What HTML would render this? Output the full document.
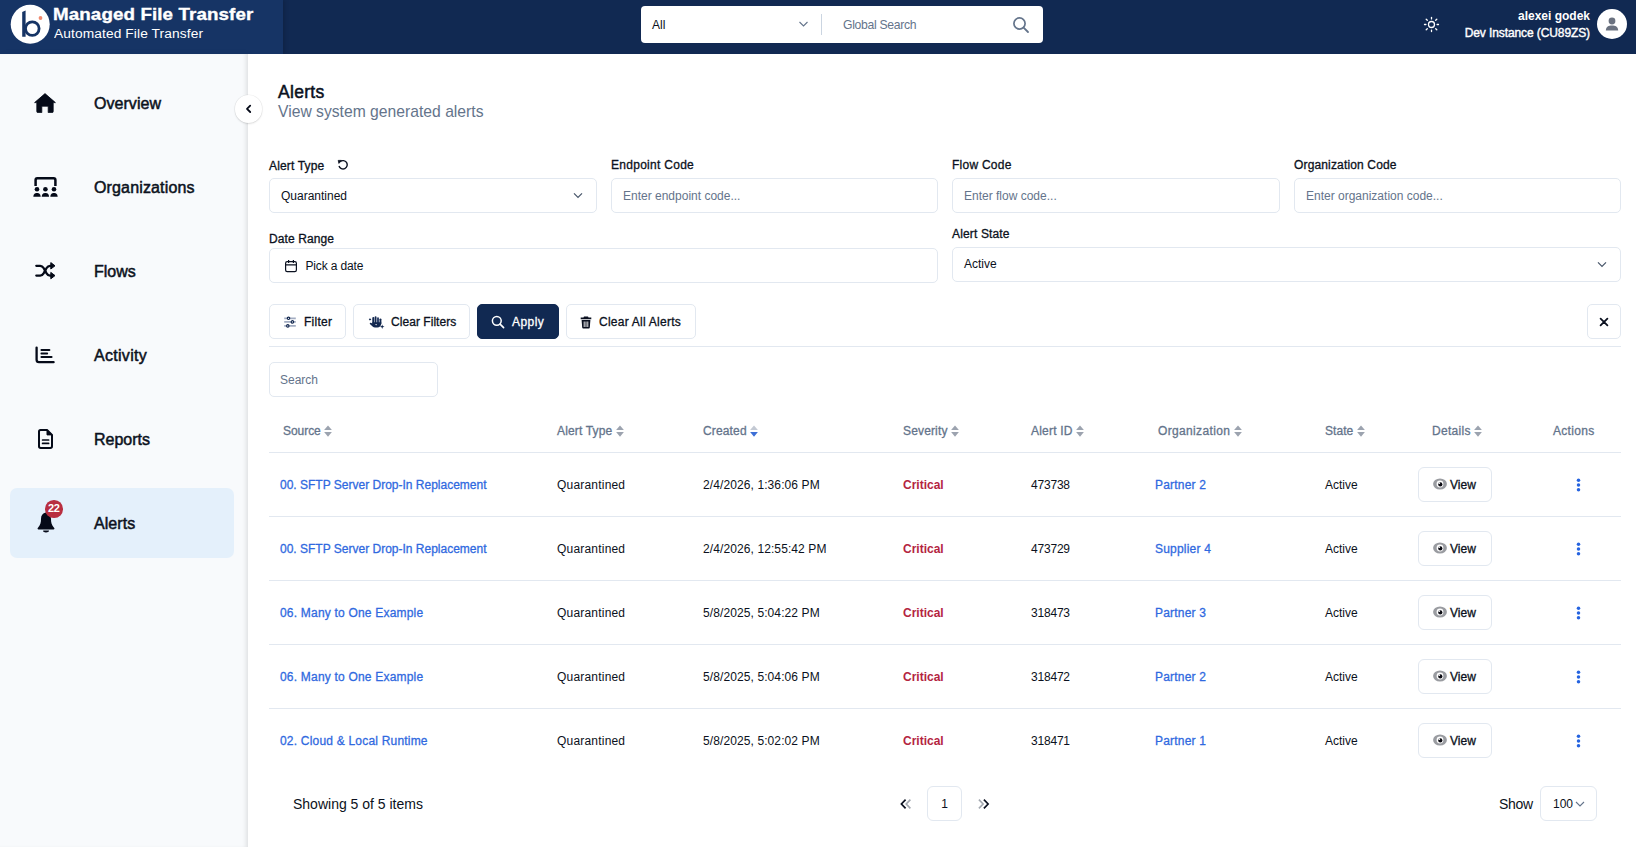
<!DOCTYPE html>
<html>
<head>
<meta charset="utf-8">
<style>
*{box-sizing:border-box;margin:0;padding:0}
html,body{width:1636px;height:847px;overflow:hidden;background:#fff;font-family:"Liberation Sans",sans-serif;color:#0b1120}
.abs{position:absolute}
#hdr{position:absolute;left:0;top:0;width:1636px;height:54px;background:#112952}
#logo{position:absolute;left:0;top:0;width:283px;height:54px;background:#163465;box-shadow:2px 0 4px rgba(0,0,0,0.15)}
#side{position:absolute;left:0;top:54px;width:248px;height:793px;background:#f8fafc;box-shadow:inset -4px 0 4px -2px rgba(0,0,0,0.10),2px 0 8px rgba(0,0,0,0.03)}
.nav{position:absolute;left:10px;width:224px;height:70px;border-radius:7px}
.nav .lbl{position:absolute;left:84px;top:0;line-height:70px;font-size:15.6px;font-weight:700;color:#0b1120;letter-spacing:-0.1px}
.nav svg{position:absolute}
#main{position:absolute;left:248px;top:54px;width:1388px;height:793px;background:#fff}
.lbl2{position:absolute;font-size:12px;font-weight:400;-webkit-text-stroke:0.3px #0b1120;color:#0b1120;letter-spacing:0.15px;white-space:nowrap}
.inp{position:absolute;height:35px;border:1px solid #e2e8f0;border-radius:5px;background:#fff;font-size:12px;line-height:35px;padding-left:11px;white-space:nowrap}
.ph{color:#64748b}
.btn{position:absolute;top:304px;height:35px;border:1px solid #e2e8f0;border-radius:5px;background:#fff;font-size:12px;font-weight:400;-webkit-text-stroke:0.3px currentColor;line-height:33px;white-space:nowrap;letter-spacing:0.2px;padding-top:1px}
.th{position:absolute;top:424.9px;font-size:12px;font-weight:400;-webkit-text-stroke:0.3px #64748b;color:#64748b;white-space:nowrap;line-height:1}
.td{position:absolute;font-size:12px;white-space:nowrap;line-height:14px}
.lnk{color:#2f69e0;-webkit-text-stroke:0.28px #2f69e0}
.crit{color:#b4243f;font-weight:700}
.vbtn{position:absolute;left:1418px;width:74px;height:35px;border:1px solid #e2e8f0;border-radius:6px;background:#fff;font-size:12px;font-weight:400;-webkit-text-stroke:0.3px #0b1120;line-height:33px;padding-left:31px;padding-top:0.5px;letter-spacing:0px}
.hr{position:absolute;left:269px;width:1352px;height:1px;background:#e2e8f0}
</style>
</head>
<body>
<div id="hdr"></div>
<div id="logo">
  <svg class="abs" style="left:0;top:0" width="54" height="54" viewBox="0 0 54 54">
    <circle cx="30.2" cy="24.3" r="19.5" fill="#fff"/>
    <path d="M22.2,12 L25.6,10.4 L25.6,36.8 L22.2,36.8 Z" fill="#163465"/>
    <circle cx="32.3" cy="28.6" r="6.8" stroke="#163465" stroke-width="2.8" fill="none"/>
    <circle cx="40.5" cy="18" r="1.9" fill="#f08a70"/>
  </svg>
  <div class="abs" style="left:53px;top:7px;font-size:16.6px;font-weight:700;color:#fff;letter-spacing:0.1px;white-space:nowrap;line-height:1;transform:scaleX(1.13);transform-origin:0 0;-webkit-text-stroke:0.35px #fff">Managed File Transfer</div>
  <div class="abs" style="left:54px;top:27.9px;font-size:12.3px;color:#fff;letter-spacing:0.1px;white-space:nowrap;line-height:1;transform:scaleX(1.117);transform-origin:0 0">Automated File Transfer</div>
</div>
<div class="abs" style="left:641px;top:6px;width:402px;height:37px;background:#fff;border-radius:4px">
  <div class="abs" style="left:11px;top:1px;line-height:37px;font-size:12px;color:#0b1120">All</div>
  <svg class="abs" style="left:798px;left:157px;top:14px" width="11" height="8" viewBox="0 0 11 8"><path d="M1.5,2 L5.5,6 L9.5,2" stroke="#64748b" stroke-width="1.1" fill="none"/></svg>
  <div class="abs" style="left:180px;top:8px;width:1px;height:21px;background:#cbd5e1"></div>
  <div class="abs" style="left:202px;top:1px;line-height:37px;font-size:12.2px;color:#64748b;letter-spacing:-0.3px">Global Search</div>
  <svg class="abs" style="left:371px;top:10px" width="18" height="18" viewBox="0 0 18 18"><circle cx="7.5" cy="7.5" r="5.6" stroke="#64748b" stroke-width="1.7" fill="none"/><path d="M11.6,11.6 L16,16" stroke="#64748b" stroke-width="1.8" stroke-linecap="round"/></svg>
</div>
<svg class="abs" style="left:1423px;top:16px" width="17" height="17" viewBox="0 0 17 17">
  <circle cx="8.5" cy="8.5" r="3" stroke="#fff" stroke-width="1.3" fill="none"/>
  <g stroke="#fff" stroke-width="1.3" stroke-linecap="round">
    <path d="M8.5,1.5 V2.9"/><path d="M8.5,14.1 V15.5"/><path d="M1.5,8.5 H2.9"/><path d="M14.1,8.5 H15.5"/>
    <path d="M3.2,3.2 L4.3,4.3"/><path d="M12.7,12.7 L13.8,13.8"/><path d="M3.2,13.8 L4.3,12.7"/><path d="M12.7,4.3 L13.8,3.2"/>
  </g>
</svg>
<div class="abs" style="right:46px;top:9.2px;font-size:12px;font-weight:700;color:#fff;white-space:nowrap;line-height:15px;text-align:right">alexei godek</div>
<div class="abs" style="right:46px;top:26.2px;font-size:12px;font-weight:400;-webkit-text-stroke:0.4px #fff;color:#fff;white-space:nowrap;line-height:15px;text-align:right;letter-spacing:-0.1px">Dev Instance (CU89ZS)</div>
<div class="abs" style="left:1597px;top:9px;width:30px;height:30px;border-radius:50%;background:#fff">
  <svg class="abs" style="left:0;top:0" width="30" height="30" viewBox="0 0 30 30"><circle cx="15" cy="12" r="3.4" fill="#6b7280"/><path d="M8.8,21.5 C9,17.8 11.5,16.6 15,16.6 C18.5,16.6 21,17.8 21.2,21.5 Z" fill="#6b7280"/></svg>
</div>
<div id="side"></div>
<div class="nav" style="top:488px;background:#e4f0fb"></div>
<div class="abs" style="left:94px;top:0;font-size:16px;font-weight:400;-webkit-text-stroke:0.5px #0b1120;letter-spacing:0.05px;white-space:nowrap;line-height:1">
  <div class="abs" style="top:96.20px;letter-spacing:0.05px">Overview</div>
  <div class="abs" style="top:180.20px;letter-spacing:0.15px">Organizations</div>
  <div class="abs" style="top:264.20px;letter-spacing:0px">Flows</div>
  <div class="abs" style="top:348.20px;letter-spacing:0.3px">Activity</div>
  <div class="abs" style="top:432.20px;letter-spacing:0px">Reports</div>
  <div class="abs" style="top:516.20px;letter-spacing:0.05px">Alerts</div>
</div>
<!-- home -->
<svg class="abs" style="left:34px;top:93px" width="22" height="20" viewBox="0 0 22 20">
  <path d="M11,0.6 L21.4,9.6 L19.2,9.6 L19.2,18.6 Q19.2,19.6 18.2,19.6 L14.2,19.6 L14.2,13.2 L7.8,13.2 L7.8,19.6 L3.8,19.6 Q2.8,19.6 2.8,18.6 L2.8,9.6 L0.6,9.6 Z" fill="#050a18" stroke="#050a18" stroke-width="0.8" stroke-linejoin="round"/>
</svg>
<!-- organizations -->
<svg class="abs" style="left:33px;top:177px" width="25" height="21" viewBox="0 0 25 21">
  <path d="M2.6,9 V3 Q2.6,1.3 4.3,1.3 H20.7 Q22.4,1.3 22.4,3 V9" stroke="#050a18" stroke-width="2.5" fill="none"/>
  <circle cx="4" cy="12.2" r="2.3" fill="#050a18"/><circle cx="12.4" cy="12.2" r="2.3" fill="#050a18"/><circle cx="21" cy="12.2" r="2.3" fill="#050a18"/>
  <path d="M0.3,19.8 C0.6,16.6 2.2,16 4,16 C5.8,16 7.4,16.6 7.7,19.8 Z" fill="#050a18"/>
  <path d="M8.7,19.8 C9,16.6 10.6,16 12.4,16 C14.2,16 15.8,16.6 16.1,19.8 Z" fill="#050a18"/>
  <path d="M17.3,19.8 C17.6,16.6 19.2,16 21,16 C22.8,16 24.4,16.6 24.7,19.8 Z" fill="#050a18"/>
</svg>
<!-- flows shuffle -->
<svg class="abs" style="left:35px;top:262px" width="21" height="18" viewBox="0 0 21 18">
  <path d="M1.3,3.8 H5.2 Q7.3,3.8 8.6,6 L11.6,11.4 Q12.9,13.6 15,13.6 H16.5" stroke="#050a18" stroke-width="2.3" fill="none" stroke-linecap="round"/>
  <path d="M1.3,13.6 H5.2 Q7.3,13.6 8.6,11.4 L11.6,6 Q12.9,3.8 15,3.8 H16.5" stroke="#050a18" stroke-width="2.3" fill="none" stroke-linecap="round"/>
  <path d="M15.8,0.6 L20,3.8 L15.8,7 Z" fill="#050a18" stroke="#050a18" stroke-width="1" stroke-linejoin="round"/>
  <path d="M15.8,10.4 L20,13.6 L15.8,16.8 Z" fill="#050a18" stroke="#050a18" stroke-width="1" stroke-linejoin="round"/>
</svg>
<!-- activity -->
<svg class="abs" style="left:34px;top:344px" width="22" height="21" viewBox="0 0 22 21">
  <path d="M2.6,3.6 V15.8 Q2.6,18.2 5,18.2 H19.6" stroke="#050a18" stroke-width="2.3" fill="none" stroke-linecap="round"/>
  <g stroke="#050a18" stroke-width="1.9" stroke-linecap="round"><path d="M7.4,6 H15.4"/><path d="M7.4,9.5 H13.2"/><path d="M7.4,13 H17.6"/></g>
</svg>
<!-- reports -->
<svg class="abs" style="left:37px;top:428px" width="17" height="22" viewBox="0 0 17 22">
  <path d="M3.5,1.9 H10 L15,6.9 V18.2 Q15,19.9 13.3,19.9 H3.7 Q2,19.9 2,18.2 V3.6 Q2,1.9 3.5,1.9 Z" stroke="#050a18" stroke-width="2" fill="none" stroke-linejoin="round"/>
  <path d="M10,1.9 L15,6.9 L10,6.9 Z" fill="#050a18" stroke="#050a18" stroke-width="1" stroke-linejoin="round"/>
  <g stroke="#050a18" stroke-width="1.7" stroke-linecap="round"><path d="M5.6,12 H11.6"/><path d="M5.6,15.4 H11.6"/></g>
</svg>
<!-- bell -->
<svg class="abs" style="left:36px;top:511px" width="20" height="23" viewBox="0 0 20 23">
  <path d="M10,1.6 C6.5,2.2 5,4.6 5,8 C5,11 4.7,14 1.6,17.2 Q1.2,18.3 2.4,18.4 H17.6 Q18.8,18.3 18.4,17.2 C15.3,14 15,11 15,8 C15,4.6 13.5,2.2 10,1.6 Z" fill="#050a18"/>
  <path d="M7.6,20 Q10,22 12.4,20 Z" fill="#050a18" stroke="#050a18" stroke-width="1.2" stroke-linejoin="round"/>
</svg>
<div class="abs" style="left:45px;top:500.3px;width:17.6px;height:17.6px;border-radius:50%;background:#b82e40;color:#fff;font-size:11px;font-weight:700;text-align:center;line-height:16.6px;letter-spacing:-0.3px">22</div>
<!-- collapse button -->
<div class="abs" style="left:234.5px;top:95px;width:27.5px;height:27.5px;border-radius:50%;background:#fff;box-shadow:0 1px 2px rgba(0,0,0,0.12),0 0 0 0.6px rgba(0,0,0,0.06);z-index:5">
  <svg class="abs" style="left:0;top:0" width="28" height="28" viewBox="0 0 28 28"><path d="M15.2,10.6 L12,13.8 L15.2,17" stroke="#050a18" stroke-width="1.8" fill="none" stroke-linecap="round" stroke-linejoin="round"/></svg>
</div>
<div id="main"></div>
<div class="abs" style="left:278px;top:83.8px;font-size:17.5px;font-weight:400;-webkit-text-stroke:0.5px #0b1120;line-height:1;letter-spacing:0.3px">Alerts</div>
<div class="abs" style="left:278px;top:104.1px;font-size:15.7px;line-height:1;color:#64748b;white-space:nowrap">View system generated alerts</div>
<!-- filter labels -->
<div class="lbl2" style="left:269px;top:160px;line-height:1">Alert Type</div>
<svg class="abs" style="left:337px;top:159px" width="12" height="12" viewBox="0 0 12 12"><path d="M3.2,2.7 A4.2,4.2 0 1 1 2,7" stroke="#0b1120" stroke-width="1.4" fill="none"/><path d="M1.2,1.4 L4.4,1.4 L1.9,4.4 Z" fill="#0b1120" stroke="#0b1120" stroke-width="0.8"/></svg>
<div class="lbl2" style="left:611px;top:159px;line-height:1;letter-spacing:0.28px">Endpoint Code</div>
<div class="lbl2" style="left:952px;top:159px;line-height:1;letter-spacing:0.25px">Flow Code</div>
<div class="lbl2" style="left:1294px;top:159px;line-height:1">Organization Code</div>
<div class="inp" style="left:269px;top:178px;width:328px">Quarantined
  <svg class="abs" style="left:303px;top:13px" width="10" height="7" viewBox="0 0 10 7"><path d="M1,1.3 L5,5.3 L9,1.3" stroke="#475569" stroke-width="1.2" fill="none"/></svg></div>
<div class="inp ph" style="left:611px;top:178px;width:327px">Enter endpoint code...</div>
<div class="inp ph" style="left:952px;top:178px;width:328px">Enter flow code...</div>
<div class="inp ph" style="left:1294px;top:178px;width:327px">Enter organization code...</div>
<div class="lbl2" style="left:269px;top:232.5px;line-height:1;letter-spacing:0.1px">Date Range</div>
<div class="lbl2" style="left:952px;top:227.8px;line-height:1">Alert State</div>
<div class="inp" style="left:269px;top:248px;width:669px;padding-left:35.5px;letter-spacing:-0.15px">Pick a date
  <svg class="abs" style="left:14px;top:10px" width="14" height="14" viewBox="0 0 14 14"><rect x="1.6" y="2.6" width="10.8" height="10" rx="1.6" stroke="#0b1120" stroke-width="1.2" fill="none"/><path d="M1.6,5.8 H12.4 M4.6,1 V4 M9.4,1 V4" stroke="#0b1120" stroke-width="1.2"/></svg></div>
<div class="inp" style="left:952px;top:247px;width:669px;line-height:33px">Active
  <svg class="abs" style="left:644px;top:13px" width="10" height="7" viewBox="0 0 10 7"><path d="M1,1.3 L5,5.3 L9,1.3" stroke="#475569" stroke-width="1.2" fill="none"/></svg></div>
<!-- buttons -->
<div class="btn" style="left:269px;width:77px;padding-left:34px;letter-spacing:0.25px">Filter
  <svg class="abs" style="left:14px;top:11px" width="13" height="13" viewBox="0 0 13 13"><g stroke="#a3adc2" stroke-width="1.7" fill="none"><path d="M0.2,2.3 H11.8 M0.2,5.9 H11.8 M0.2,9.9 H11.8"/></g><g fill="#fff" stroke="#13284f" stroke-width="1.2"><circle cx="4.5" cy="2.3" r="1.2"/><circle cx="8.4" cy="5.9" r="1.2"/><circle cx="3.8" cy="9.9" r="1.2"/></g></svg></div>
<div class="btn" style="left:353px;width:117px;padding-left:37px;letter-spacing:0.05px">Clear Filters
  <svg class="abs" style="left:10px;top:6px" width="24" height="22" viewBox="0 0 24 22"><g fill="#13284f">
<rect x="8.3" y="6" width="2" height="7" rx="1"/><rect x="10.7" y="5.2" width="1.8" height="7.5" rx="0.9"/><rect x="13" y="6.2" width="2" height="7" rx="1" fill="#34466e"/><rect x="15.5" y="7.4" width="1.9" height="6" rx="0.95"/>
<path d="M8.3,11.2 H17.2 V12.8 Q16.6,16.6 13.4,16.6 H11 Q9.6,16.6 8.6,15.5 L5.9,12.9 Q5.4,12 6.3,11.8 Q7.1,11.6 8.3,12.6 Z"/>
<path d="M5.9,7.2 L7.4,8.4 L5.9,9.6 L4.8,8.4 Z"/>
<path d="M18.2,13.4 L18.8,15.1 L20.5,15.7 L18.8,16.3 L18.2,18 L17.6,16.3 L15.9,15.7 L17.6,15.1 Z"/>
</g><path d="M11.3,13 L12.9,13 L12.1,14.6 Z" fill="#fff"/></svg></div>
<div class="btn" style="left:477px;width:82px;background:#112952;border-color:#112952;color:#fff;padding-left:34px;letter-spacing:0.45px">Apply
  <svg class="abs" style="left:13.3px;top:10px" width="14" height="14" viewBox="0 0 14 14"><circle cx="5.8" cy="5.8" r="4.4" stroke="#fff" stroke-width="1.5" fill="none"/><path d="M9.1,9.1 L12.6,12.6" stroke="#fff" stroke-width="1.6" stroke-linecap="round"/></svg></div>
<div class="btn" style="left:566px;width:130px;padding-left:32px;letter-spacing:0.25px">Clear All Alerts
  <svg class="abs" style="left:13.3px;top:10.8px" width="12" height="13" viewBox="0 0 12 13"><path d="M4,0.6 H8 L8.5,1.6 H11.3 V3.2 H0.7 V1.6 H3.5 Z" fill="#0b1120"/><path d="M1.6,4 H10.4 L9.8,11.6 Q9.7,12.6 8.7,12.6 H3.3 Q2.3,12.6 2.2,11.6 Z" fill="#0b1120"/><path d="M4.2,5.5 V11 M6,5.5 V11 M7.8,5.5 V11" stroke="#fff" stroke-width="0.9"/></svg></div>
<div class="btn" style="left:1587px;width:34px">
  <svg class="abs" style="left:11px;top:12px" width="10" height="10" viewBox="0 0 10 10"><path d="M1.6,1.6 L8.4,8.4 M8.4,1.6 L1.6,8.4" stroke="#0b1120" stroke-width="1.8" stroke-linecap="round"/></svg></div>
<div class="hr" style="top:346px"></div>
<div class="inp ph" style="left:269px;top:362px;width:169px;padding-left:10px">Search</div>
<!-- table header -->
<div id="thead">
<div class="th" style="left:283px;letter-spacing:-0.05px"><span>Source</span><svg style="margin-left:3.6px;vertical-align:-2.2px" width="8" height="12" viewBox="0 0 8 12"><path d="M4,0.4 L7.9,5.1 H0.1 Z" fill="#9ca3af"/><path d="M4,11.8 L7.9,6.9 H0.1 Z" fill="#9ca3af"/></svg></div>
<div class="th" style="left:557px;letter-spacing:0.15px"><span>Alert Type</span><svg style="margin-left:3.6px;vertical-align:-2.2px" width="8" height="12" viewBox="0 0 8 12"><path d="M4,0.4 L7.9,5.1 H0.1 Z" fill="#9ca3af"/><path d="M4,11.8 L7.9,6.9 H0.1 Z" fill="#9ca3af"/></svg></div>
<div class="th" style="left:703px;letter-spacing:0.15px"><span>Created</span><svg style="margin-left:3.6px;vertical-align:-2.2px" width="8" height="12" viewBox="0 0 8 12"><path d="M4,0.4 L7.9,5.1 H0.1 Z" fill="#c3c9d3"/><path d="M4,11.8 L7.9,6.9 H0.1 Z" fill="#3d6fd6"/></svg></div>
<div class="th" style="left:903px;letter-spacing:0.15px"><span>Severity</span><svg style="margin-left:3.6px;vertical-align:-2.2px" width="8" height="12" viewBox="0 0 8 12"><path d="M4,0.4 L7.9,5.1 H0.1 Z" fill="#9ca3af"/><path d="M4,11.8 L7.9,6.9 H0.1 Z" fill="#9ca3af"/></svg></div>
<div class="th" style="left:1031px;letter-spacing:0.2px"><span>Alert ID</span><svg style="margin-left:3.6px;vertical-align:-2.2px" width="8" height="12" viewBox="0 0 8 12"><path d="M4,0.4 L7.9,5.1 H0.1 Z" fill="#9ca3af"/><path d="M4,11.8 L7.9,6.9 H0.1 Z" fill="#9ca3af"/></svg></div>
<div class="th" style="left:1158px;letter-spacing:0.35px"><span>Organization</span><svg style="margin-left:3.6px;vertical-align:-2.2px" width="8" height="12" viewBox="0 0 8 12"><path d="M4,0.4 L7.9,5.1 H0.1 Z" fill="#9ca3af"/><path d="M4,11.8 L7.9,6.9 H0.1 Z" fill="#9ca3af"/></svg></div>
<div class="th" style="left:1325px;letter-spacing:0.05px"><span>State</span><svg style="margin-left:3.6px;vertical-align:-2.2px" width="8" height="12" viewBox="0 0 8 12"><path d="M4,0.4 L7.9,5.1 H0.1 Z" fill="#9ca3af"/><path d="M4,11.8 L7.9,6.9 H0.1 Z" fill="#9ca3af"/></svg></div>
<div class="th" style="left:1432px;letter-spacing:0.3px"><span>Details</span><svg style="margin-left:3.6px;vertical-align:-2.2px" width="8" height="12" viewBox="0 0 8 12"><path d="M4,0.4 L7.9,5.1 H0.1 Z" fill="#9ca3af"/><path d="M4,11.8 L7.9,6.9 H0.1 Z" fill="#9ca3af"/></svg></div>
<div class="th" style="left:1553px;letter-spacing:0.3px"><span>Actions</span></div>
</div><!--/thead-->
<div class="hr" style="top:452px"></div>
<div id="tbody">
<div class="td lnk" style="left:280px;top:478.6px;line-height:1;letter-spacing:0px">00. SFTP Server Drop-In Replacement</div>
<div class="td" style="left:557px;top:478.6px;line-height:1;letter-spacing:0.2px">Quarantined</div>
<div class="td" style="left:703px;top:478.6px;line-height:1;letter-spacing:0.1px">2/4/2026, 1:36:06 PM</div>
<div class="td crit" style="left:903px;top:478.6px;line-height:1;letter-spacing:0px">Critical</div>
<div class="td" style="left:1031px;top:478.6px;line-height:1;letter-spacing:-0.2px">473738</div>
<div class="td lnk" style="left:1155px;top:478.6px;line-height:1;letter-spacing:0.2px">Partner 2</div>
<div class="td" style="left:1325px;top:478.6px;line-height:1">Active</div>
<div class="vbtn" style="top:467px"><svg class="abs" style="left:14px;top:10.3px" width="14" height="12" viewBox="0 0 14 12"><ellipse cx="7" cy="6" rx="6.9" ry="5.6" fill="#9a9ca1"/><circle cx="7" cy="6" r="3.4" fill="#fff"/><circle cx="7.3" cy="6.4" r="2.1" fill="#0b0b12"/><circle cx="6.4" cy="5.3" r="0.75" fill="#fff"/></svg>View</div>
<svg class="abs" style="left:1576.4px;top:477.5px" width="5" height="14" viewBox="0 0 5 14"><circle cx="2.5" cy="2.2" r="1.75" fill="#2563e0"/><circle cx="2.5" cy="7" r="1.75" fill="#2563e0"/><circle cx="2.5" cy="11.8" r="1.75" fill="#2563e0"/></svg>
<div class="hr" style="top:516px"></div>
<div class="td lnk" style="left:280px;top:542.6px;line-height:1;letter-spacing:0px">00. SFTP Server Drop-In Replacement</div>
<div class="td" style="left:557px;top:542.6px;line-height:1;letter-spacing:0.2px">Quarantined</div>
<div class="td" style="left:703px;top:542.6px;line-height:1;letter-spacing:0.1px">2/4/2026, 12:55:42 PM</div>
<div class="td crit" style="left:903px;top:542.6px;line-height:1;letter-spacing:0px">Critical</div>
<div class="td" style="left:1031px;top:542.6px;line-height:1;letter-spacing:-0.2px">473729</div>
<div class="td lnk" style="left:1155px;top:542.6px;line-height:1;letter-spacing:0.2px">Supplier 4</div>
<div class="td" style="left:1325px;top:542.6px;line-height:1">Active</div>
<div class="vbtn" style="top:531px"><svg class="abs" style="left:14px;top:10.3px" width="14" height="12" viewBox="0 0 14 12"><ellipse cx="7" cy="6" rx="6.9" ry="5.6" fill="#9a9ca1"/><circle cx="7" cy="6" r="3.4" fill="#fff"/><circle cx="7.3" cy="6.4" r="2.1" fill="#0b0b12"/><circle cx="6.4" cy="5.3" r="0.75" fill="#fff"/></svg>View</div>
<svg class="abs" style="left:1576.4px;top:541.5px" width="5" height="14" viewBox="0 0 5 14"><circle cx="2.5" cy="2.2" r="1.75" fill="#2563e0"/><circle cx="2.5" cy="7" r="1.75" fill="#2563e0"/><circle cx="2.5" cy="11.8" r="1.75" fill="#2563e0"/></svg>
<div class="hr" style="top:580px"></div>
<div class="td lnk" style="left:280px;top:606.6px;line-height:1;letter-spacing:0.2px">06. Many to One Example</div>
<div class="td" style="left:557px;top:606.6px;line-height:1;letter-spacing:0.2px">Quarantined</div>
<div class="td" style="left:703px;top:606.6px;line-height:1;letter-spacing:0.1px">5/8/2025, 5:04:22 PM</div>
<div class="td crit" style="left:903px;top:606.6px;line-height:1;letter-spacing:0px">Critical</div>
<div class="td" style="left:1031px;top:606.6px;line-height:1;letter-spacing:-0.2px">318473</div>
<div class="td lnk" style="left:1155px;top:606.6px;line-height:1;letter-spacing:0.2px">Partner 3</div>
<div class="td" style="left:1325px;top:606.6px;line-height:1">Active</div>
<div class="vbtn" style="top:595px"><svg class="abs" style="left:14px;top:10.3px" width="14" height="12" viewBox="0 0 14 12"><ellipse cx="7" cy="6" rx="6.9" ry="5.6" fill="#9a9ca1"/><circle cx="7" cy="6" r="3.4" fill="#fff"/><circle cx="7.3" cy="6.4" r="2.1" fill="#0b0b12"/><circle cx="6.4" cy="5.3" r="0.75" fill="#fff"/></svg>View</div>
<svg class="abs" style="left:1576.4px;top:605.5px" width="5" height="14" viewBox="0 0 5 14"><circle cx="2.5" cy="2.2" r="1.75" fill="#2563e0"/><circle cx="2.5" cy="7" r="1.75" fill="#2563e0"/><circle cx="2.5" cy="11.8" r="1.75" fill="#2563e0"/></svg>
<div class="hr" style="top:644px"></div>
<div class="td lnk" style="left:280px;top:670.6px;line-height:1;letter-spacing:0.2px">06. Many to One Example</div>
<div class="td" style="left:557px;top:670.6px;line-height:1;letter-spacing:0.2px">Quarantined</div>
<div class="td" style="left:703px;top:670.6px;line-height:1;letter-spacing:0.1px">5/8/2025, 5:04:06 PM</div>
<div class="td crit" style="left:903px;top:670.6px;line-height:1;letter-spacing:0px">Critical</div>
<div class="td" style="left:1031px;top:670.6px;line-height:1;letter-spacing:-0.2px">318472</div>
<div class="td lnk" style="left:1155px;top:670.6px;line-height:1;letter-spacing:0.2px">Partner 2</div>
<div class="td" style="left:1325px;top:670.6px;line-height:1">Active</div>
<div class="vbtn" style="top:659px"><svg class="abs" style="left:14px;top:10.3px" width="14" height="12" viewBox="0 0 14 12"><ellipse cx="7" cy="6" rx="6.9" ry="5.6" fill="#9a9ca1"/><circle cx="7" cy="6" r="3.4" fill="#fff"/><circle cx="7.3" cy="6.4" r="2.1" fill="#0b0b12"/><circle cx="6.4" cy="5.3" r="0.75" fill="#fff"/></svg>View</div>
<svg class="abs" style="left:1576.4px;top:669.5px" width="5" height="14" viewBox="0 0 5 14"><circle cx="2.5" cy="2.2" r="1.75" fill="#2563e0"/><circle cx="2.5" cy="7" r="1.75" fill="#2563e0"/><circle cx="2.5" cy="11.8" r="1.75" fill="#2563e0"/></svg>
<div class="hr" style="top:708px"></div>
<div class="td lnk" style="left:280px;top:734.6px;line-height:1;letter-spacing:0.2px">02. Cloud &amp; Local Runtime</div>
<div class="td" style="left:557px;top:734.6px;line-height:1;letter-spacing:0.2px">Quarantined</div>
<div class="td" style="left:703px;top:734.6px;line-height:1;letter-spacing:0.1px">5/8/2025, 5:02:02 PM</div>
<div class="td crit" style="left:903px;top:734.6px;line-height:1;letter-spacing:0px">Critical</div>
<div class="td" style="left:1031px;top:734.6px;line-height:1;letter-spacing:-0.2px">318471</div>
<div class="td lnk" style="left:1155px;top:734.6px;line-height:1;letter-spacing:0.2px">Partner 1</div>
<div class="td" style="left:1325px;top:734.6px;line-height:1">Active</div>
<div class="vbtn" style="top:723px"><svg class="abs" style="left:14px;top:10.3px" width="14" height="12" viewBox="0 0 14 12"><ellipse cx="7" cy="6" rx="6.9" ry="5.6" fill="#9a9ca1"/><circle cx="7" cy="6" r="3.4" fill="#fff"/><circle cx="7.3" cy="6.4" r="2.1" fill="#0b0b12"/><circle cx="6.4" cy="5.3" r="0.75" fill="#fff"/></svg>View</div>
<svg class="abs" style="left:1576.4px;top:733.5px" width="5" height="14" viewBox="0 0 5 14"><circle cx="2.5" cy="2.2" r="1.75" fill="#2563e0"/><circle cx="2.5" cy="7" r="1.75" fill="#2563e0"/><circle cx="2.5" cy="11.8" r="1.75" fill="#2563e0"/></svg>
</div><!--/tbody-->
<!-- pagination -->
<div class="abs" style="left:293px;top:797px;font-size:14px;line-height:1;white-space:nowrap">Showing 5 of 5 items</div>
<svg class="abs" style="left:898px;top:797.5px" width="14" height="12" viewBox="0 0 14 12"><path d="M12.4,1.6 L8.2,6 L12.4,10.4" stroke="#a3a8b0" stroke-width="1.6" fill="none"/><path d="M7.6,1.6 L3.4,6 L7.6,10.4" stroke="#0b1120" stroke-width="1.7" fill="none"/></svg>
<div class="abs" style="left:927px;top:786px;width:35px;height:35px;border:1px solid #e2e8f0;border-radius:6px;font-size:12px;line-height:33px;text-align:center;padding-top:1px">1</div>
<svg class="abs" style="left:976px;top:797.5px" width="14" height="12" viewBox="0 0 14 12"><path d="M2.9,1.6 L7.1,6 L2.9,10.4" stroke="#a3a8b0" stroke-width="1.6" fill="none"/><path d="M7.9,1.6 L12.1,6 L7.9,10.4" stroke="#0b1120" stroke-width="1.7" fill="none"/></svg>
<div class="abs" style="left:1499px;top:797px;font-size:14px;line-height:1;letter-spacing:-0.3px">Show</div>
<div class="abs" style="left:1540px;top:786px;width:57px;height:35px;border:1px solid #e2e8f0;border-radius:6px;font-size:12px;line-height:33px;padding-left:12px;padding-top:1px">100
  <svg class="abs" style="left:34px;top:14px" width="10" height="7" viewBox="0 0 10 7"><path d="M1,1 L5,5 L9,1" stroke="#64748b" stroke-width="1.1" fill="none"/></svg></div>
</body>
</html>
